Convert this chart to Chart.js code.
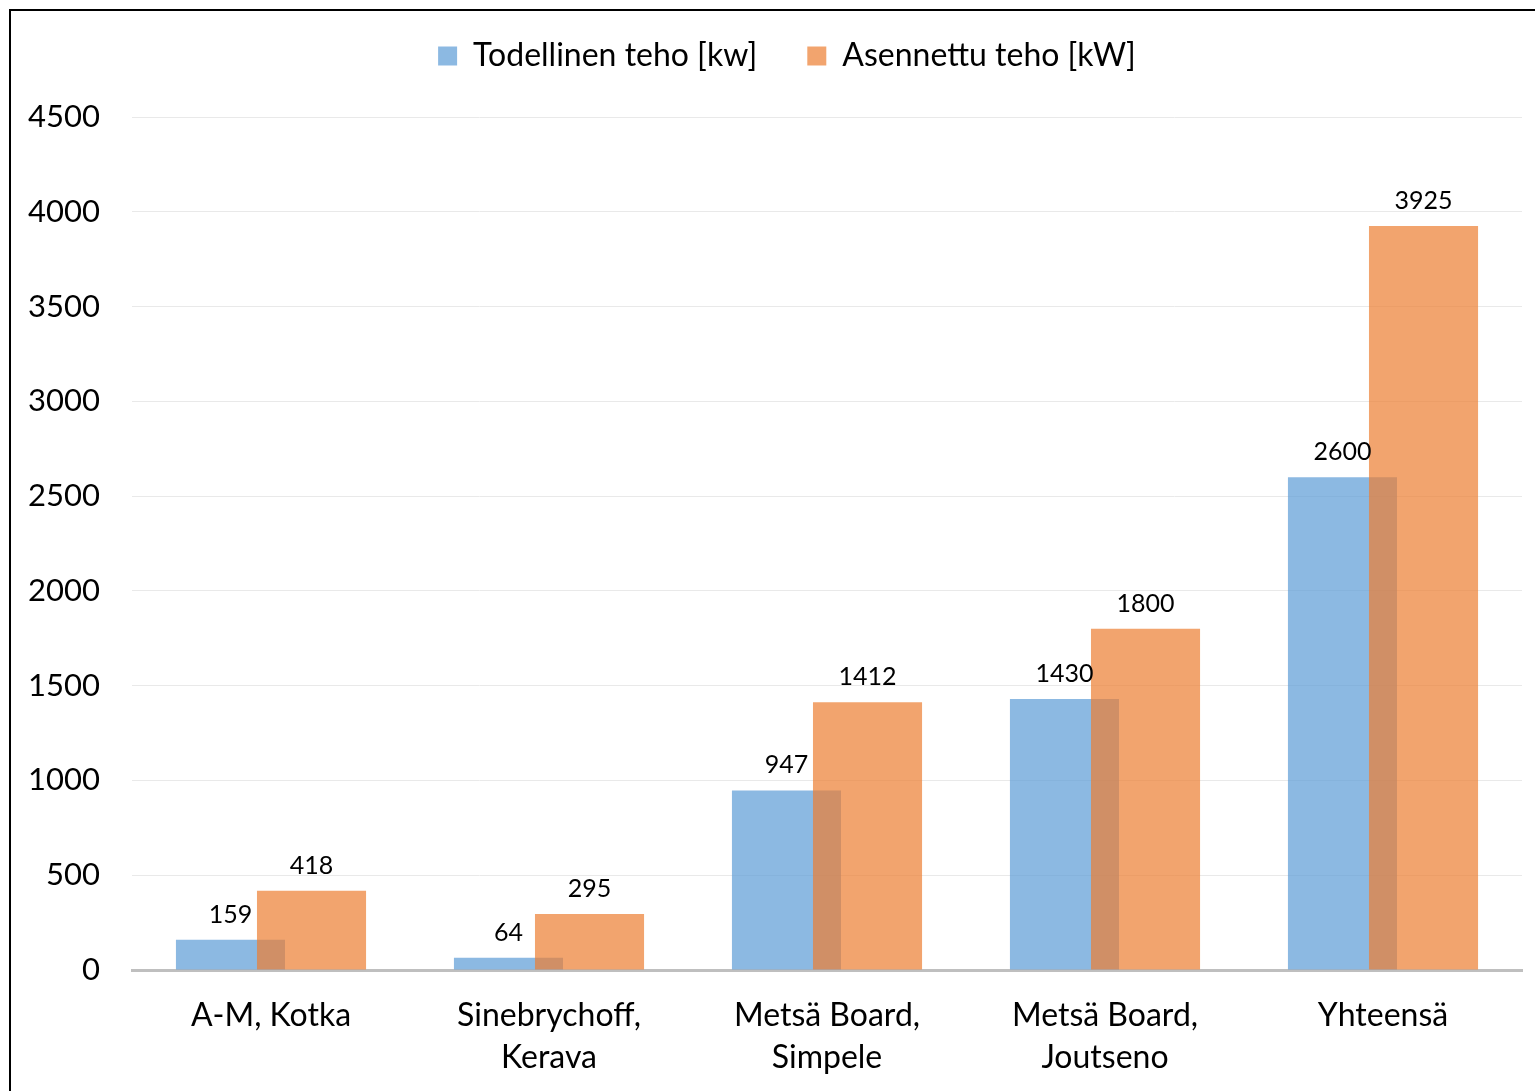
<!DOCTYPE html>
<html lang="fi">
<head>
<meta charset="utf-8">
<title>Teho</title>
<script src="https://cdn.jsdelivr.net/npm/chart.js@4.4.1/dist/chart.umd.min.js"></script>
<style>
  html, body { margin: 0; padding: 0; background: #fff; overflow: hidden; }
  #frame {
    position: absolute; left: 9px; top: 9px;
    width: 1600px; height: 1200px;
    border: 2px solid #000;
  }
  #teho { position: absolute; left: 0; top: 0; }
</style>
</head>
<body>
<div id="frame"></div>
<canvas id="teho" width="1535" height="1091"></canvas>
<script>
// Data
const categories = [
    'A-M, Kotka',
    ['Sinebrychoff,', 'Kerava'],
    ['Metsä Board,', 'Simpele'],
    ['Metsä Board,', 'Joutseno'],
    'Yhteensä'
];
const todellinenTeho = [159, 64, 947, 1430, 2600];
const asennettuTeho = [418, 295, 1412, 1800, 3925];
const yTicks = { min: 0, max: 4500, step: 500 };

const FONT = 'Lato, "DejaVu Sans", sans-serif';
const PAD_TOP = -10;
const PLOT_TOP = 117;

// Draw datasets in index order (orange over blue) and print the values above the bars
const drawInOrder = {
    id: 'drawInOrder',
    beforeDatasetsDraw(chart) {
        const ctx = chart.ctx;
        chart.data.datasets.forEach((ds, i) => {
            const meta = chart.getDatasetMeta(i);
            if (!meta.hidden) meta.controller.draw();
        });
        ctx.save();
        ctx.font = '25px ' + FONT;
        ctx.fillStyle = '#000';
        ctx.textAlign = 'center';
        ctx.textBaseline = 'alphabetic';
        chart.data.datasets.forEach((ds, i) => {
            const meta = chart.getDatasetMeta(i);
            meta.data.forEach((bar, j) => {
                ctx.fillText(String(ds.data[j]), bar.x, bar.y - 17);
            });
        });
        ctx.restore();
        return false;
    }
};

// Legend: fixed height and nudged to the right a little
const legendRoom = {
    id: 'legendRoom',
    beforeInit(chart) {
        const fit = chart.legend.fit;
        chart.legend.fit = function() {
            fit.bind(chart.legend)();
            this.height = PLOT_TOP - PAD_TOP;
        };
    },
    afterLayout(chart) {
        chart.legend.left += 26;
        chart.legend.right += 26;
    }
};

const chart = new Chart(document.getElementById('teho'), {
    type: 'bar',
    data: {
        labels: categories,
        datasets: [
            {
                label: 'Todellinen teho [kw]',
                data: todellinenTeho,
                backgroundColor: 'rgba(91,155,213,0.7)',
                borderWidth: 0
            },
            {
                label: 'Asennettu teho [kW]',
                data: asennettuTeho,
                backgroundColor: 'rgba(237,125,49,0.7)',
                borderWidth: 0
            }
        ]
    },
    options: {
        responsive: false,
        animation: false,
        categoryPercentage: 0.583,
        barPercentage: 1.346,
        layout: { padding: { top: PAD_TOP, right: 13, left: 0, bottom: 0 } },
        scales: {
            x: {
                grid: { display: false, drawTicks: false },
                border: { display: true, color: '#BFBFBF', width: 3 },
                ticks: {
                    color: '#000',
                    font: { family: FONT, size: 32, lineHeight: 1.31 },
                    padding: 25,
                    maxRotation: 0,
                    autoSkip: false
                },
                afterFit(scale) { scale.height = 121; }
            },
            y: {
                min: yTicks.min,
                max: yTicks.max,
                grid: {
                    color: '#E9E9E9',
                    lineWidth: 1,
                    drawTicks: false
                },
                border: { display: false },
                ticks: {
                    stepSize: yTicks.step,
                    color: '#000',
                    font: { family: FONT, size: 31 },
                    padding: 32,
                    callback: (v) => String(v)
                },
                afterFit(scale) { scale.width = 132; }
            }
        },
        plugins: {
            legend: {
                position: 'top',
                labels: {
                    color: '#000',
                    font: { family: FONT, size: 32 },
                    boxWidth: 19,
                    boxHeight: 19,
                    padding: 50
                }
            },
            tooltip: { enabled: false }
        }
    },
    plugins: [drawInOrder, legendRoom]
});
</script>
</body>
</html>
